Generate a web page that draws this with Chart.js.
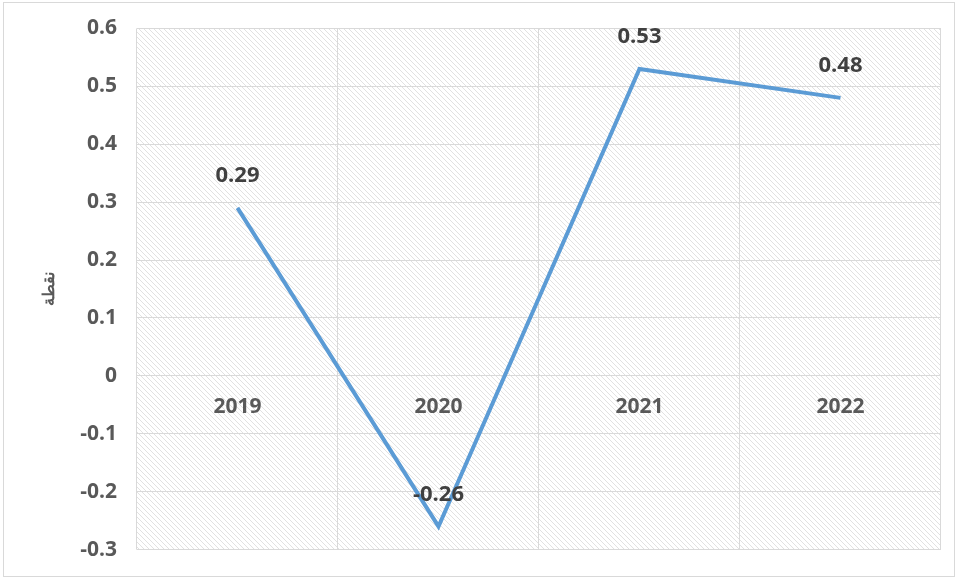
<!DOCTYPE html>
<html>
<head>
<meta charset="utf-8">
<script src="https://cdn.jsdelivr.net/npm/chart.js@4/dist/chart.umd.min.js"></script>
<style>
  body { margin: 0; background: #fff; }
  #wrap { width: 956px; height: 578px; position: relative; }
</style>
</head>
<body>
<div id="wrap"><canvas id="myChart"></canvas></div>
<script>
const years = ["2019", "2020", "2021", "2022"];
const values = [0.29, -0.26, 0.53, 0.48];
const yMin = -0.3;
const yMax = 0.6;
const yStep = 0.1;
const yTitle = "نقطة";

const textColor = "#595959";
const gridColor = "#d9d9d9";
const lineColor = "#5b9bd5";

// diagonal hatch fill for the plot area
function makeHatch() {
  const c = document.createElement("canvas");
  c.width = 5;
  c.height = 5;
  const g = c.getContext("2d");
  g.fillStyle = "#ffffff";
  g.fillRect(0, 0, 5, 5);
  g.strokeStyle = "#e1e1e1";
  g.lineWidth = 1;
  g.beginPath();
  g.moveTo(-1, -1);
  g.lineTo(6, 6);
  g.moveTo(-1, 4);
  g.lineTo(1, 6);
  g.moveTo(4, -1);
  g.lineTo(6, 1);
  g.stroke();
  return g.createPattern(c, "repeat");
}

const backdrop = {
  id: "backdrop",
  beforeDraw(chart) {
    const { ctx, chartArea: a } = chart;
    ctx.save();
    ctx.fillStyle = "#fff";
    ctx.fillRect(0, 0, chart.width, chart.height);
    ctx.strokeStyle = "#d9d9d9";
    ctx.lineWidth = 1;
    ctx.strokeRect(3.5, 2.5, chart.width - 5, chart.height - 4);
    ctx.fillStyle = makeHatch();
    ctx.fillRect(a.left, a.top, a.right - a.left, a.bottom - a.top);
    ctx.restore();
  },
};

const pointLabels = {
  id: "pointLabels",
  afterDatasetsDraw(chart) {
    const { ctx } = chart;
    const meta = chart.getDatasetMeta(0);
    ctx.save();
    ctx.font = "bold 22px 'Open Sans'";
    ctx.fillStyle = "#404040";
    ctx.textAlign = "center";
    ctx.textBaseline = "middle";
    meta.data.forEach((pt, i) => {
      ctx.fillText(values[i].toFixed(2), pt.x, pt.y - 32);
    });
    ctx.restore();
  },
};

const ctx = document.getElementById("myChart").getContext("2d");
const myChart = new Chart(ctx, {
  type: "line",
  plugins: [backdrop, pointLabels],
  data: {
    labels: years,
    datasets: [
      {
        data: values,
        borderColor: lineColor,
        borderWidth: 4,
        pointRadius: 0,
        tension: 0,
        fill: false,
      },
    ],
  },
  options: {
    responsive: true,
    maintainAspectRatio: false,
    animation: false,
    layout: {
      padding: { left: 40, right: 15, top: 19, bottom: 15 },
    },
    plugins: {
      legend: { display: false },
      tooltip: { enabled: false },
    },
    scales: {
      x: {
        position: { y: 0 },
        offset: true,
        grid: {
          offset: true,
          color: gridColor,
          drawTicks: false,
        },
        border: { display: false },
        ticks: {
          color: textColor,
          padding: 19,
          font: { family: "'Open Sans'", size: 21, weight: "bold" },
        },
      },
      y: {
        min: yMin,
        max: yMax,
        grid: { color: gridColor, drawTicks: false },
        border: { display: false },
        ticks: {
          stepSize: yStep,
          padding: 20,
          color: textColor,
          font: { family: "'Open Sans'", size: 21, weight: "bold", lineHeight: 0.8 },
          callback: (v) => Math.round(v * 10) / 10,
        },
        title: {
          display: true,
          text: yTitle,
          color: textColor,
          padding: { top: 0, bottom: 1 },
          font: { family: "'Noto Sans'", size: 16, weight: "bold" },
        },
      },
    },
  },
});
</script>
</body>
</html>
